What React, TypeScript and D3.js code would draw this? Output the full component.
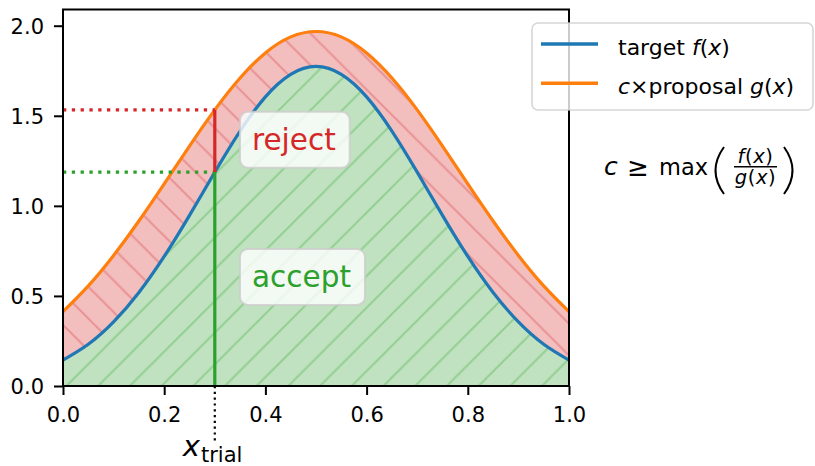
import React, { useRef, useEffect } from 'react'
import * as d3 from 'd3'

// sample points
const xs = [0, 0.05, 0.1, 0.15, 0.2, 0.25, 0.3, 0.35, 0.4, 0.45, 0.5, 0.55, 0.6, 0.65, 0.7, 0.75, 0.8, 0.85, 0.9, 0.95, 1.0]
const targetF = [0.144, 0.232, 0.356, 0.519, 0.719, 0.947, 1.187, 1.415, 1.605, 1.730, 1.774, 1.730, 1.605, 1.415, 1.187, 0.947, 0.719, 0.519, 0.356, 0.232, 0.144]
const proposalCG = [0.413, 0.556, 0.725, 0.916, 1.122, 1.332, 1.533, 1.710, 1.849, 1.938, 1.968, 1.938, 1.849, 1.710, 1.533, 1.332, 1.122, 0.916, 0.725, 0.556, 0.413]

const xTicks = [0, 0.2, 0.4, 0.6, 0.8, 1.0]
const yTicks = [0, 0.5, 1.0, 1.5, 2.0]
const trialIndex = 6 // x = 0.3

const legendItems = [
  { key: 'f', color: '#1f77b4' },
  { key: 'g', color: '#ff7f0e' },
]

const FONT = 'DejaVu Sans'

export default function App() {
  const ref = useRef<SVGSVGElement>(null)
  const layout = { width: 815, height: 466, left: 63, right: 569, top: 9.5, bottom: 386 }

  useEffect(() => {
    const svg = d3.select(ref.current)
    svg.selectAll('*').remove()

    const x = d3.scaleLinear().domain([0, 1]).range([layout.left, layout.right])
    const y = d3.scaleLinear().domain([0, 2.09]).range([layout.bottom, layout.top])

    const data = xs.map((v, i) => ({ x: v, f: targetF[i], g: proposalCG[i] }))
    const xT = xs[trialIndex], fT = targetF[trialIndex], gT = proposalCG[trialIndex]

    // hatch patterns
    const hs = 31.7
    const defs = svg.append('defs')
    const pa = defs.append('pattern').attr('id', 'hatch-accept')
      .attr('patternUnits', 'userSpaceOnUse').attr('width', hs).attr('height', hs)
      .attr('x', 8.6).attr('y', 0)
    pa.append('path')
      .attr('d', `M0,${hs} L${hs},0 M-2,2 L2,-2 M${hs - 2},${hs + 2} L${hs + 2},${hs - 2}`)
      .attr('stroke', '#93cf93').attr('stroke-width', 2)
    const pr = defs.append('pattern').attr('id', 'hatch-reject')
      .attr('patternUnits', 'userSpaceOnUse').attr('width', hs).attr('height', hs)
      .attr('x', 23.4).attr('y', 0)
    pr.append('path')
      .attr('d', `M0,0 L${hs},${hs} M${hs - 2},-2 L${hs + 2},2 M-2,${hs - 2} L2,${hs + 2}`)
      .attr('stroke', '#e99293').attr('stroke-width', 2)

    const acceptArea = d3.area<any>().x(d => x(d.x)).y0(y(0)).y1(d => y(d.f)).curve(d3.curveNatural)
    const rejectArea = d3.area<any>().x(d => x(d.x)).y0(d => y(d.f)).y1(d => y(d.g)).curve(d3.curveNatural)

    svg.append('path').attr('d', acceptArea(data)).attr('fill', '#c0e2c0')
    svg.append('path').attr('d', acceptArea(data)).attr('fill', 'url(#hatch-accept)')
    svg.append('path').attr('d', rejectArea(data)).attr('fill', '#f3bebe')
    svg.append('path').attr('d', rejectArea(data)).attr('fill', 'url(#hatch-reject)')

    const lineF = d3.line<any>().x(d => x(d.x)).y(d => y(d.f)).curve(d3.curveNatural)
    const lineG = d3.line<any>().x(d => x(d.x)).y(d => y(d.g)).curve(d3.curveNatural)
    svg.append('path').attr('d', lineF(data)).attr('fill', 'none').attr('stroke', legendItems[0].color).attr('stroke-width', 3.2)
    svg.append('path').attr('d', lineG(data)).attr('fill', 'none').attr('stroke', legendItems[1].color).attr('stroke-width', 3.2)

    // trial markers
    svg.append('line').attr('x1', x(0)).attr('x2', x(xT)).attr('y1', y(gT)).attr('y2', y(gT))
      .attr('stroke', '#d62728').attr('stroke-width', 3.2).attr('stroke-dasharray', '3.3,5.5')
    svg.append('line').attr('x1', x(0)).attr('x2', x(xT)).attr('y1', y(fT)).attr('y2', y(fT))
      .attr('stroke', '#2ca02c').attr('stroke-width', 3.2).attr('stroke-dasharray', '3.3,5.5')
    svg.append('line').attr('x1', x(xT)).attr('x2', x(xT)).attr('y1', y(fT)).attr('y2', y(gT))
      .attr('stroke', '#d62728').attr('stroke-width', 3.2)
    svg.append('line').attr('x1', x(xT)).attr('x2', x(xT)).attr('y1', y(0)).attr('y2', y(fT))
      .attr('stroke', '#2ca02c').attr('stroke-width', 3.2)
    svg.append('line').attr('x1', x(xT)).attr('x2', x(xT)).attr('y1', y(0)).attr('y2', y(0) + 55)
      .attr('stroke', '#000').attr('stroke-width', 2.2).attr('stroke-dasharray', '2.2,3.6')

    // axes
    const gx = svg.append('g').attr('transform', `translate(0, ${layout.bottom})`)
      .call(d3.axisBottom(x).tickValues(xTicks).tickSize(9).tickSizeOuter(0).tickFormat(d3.format('.1f')))
    gx.select('.domain').remove()
    gx.attr('font-size', 21).attr('font-family', FONT)
    gx.selectAll('line').attr('stroke', '#000').attr('stroke-width', 2)
    gx.selectAll('text').attr('y', 36).attr('dy', null).attr('fill', '#000')

    const gy = svg.append('g').attr('transform', `translate(${layout.left}, 0)`)
      .call(d3.axisLeft(y).tickValues(yTicks).tickSize(9).tickSizeOuter(0).tickFormat(d3.format('.1f')))
    gy.select('.domain').remove()
    gy.attr('font-size', 21).attr('font-family', FONT)
    gy.selectAll('line').attr('stroke', '#000').attr('stroke-width', 2)
    gy.selectAll('text').attr('x', -19).attr('dy', '0.36em').attr('fill', '#000')

    // spines
    svg.append('rect').attr('x', layout.left).attr('y', layout.top)
      .attr('width', layout.right - layout.left).attr('height', layout.bottom - layout.top)
      .attr('fill', 'none').attr('stroke', '#000').attr('stroke-width', 2)

    // x_trial label
    const xl = svg.append('text').attr('x', x(xT) - 32).attr('y', 456).attr('font-family', FONT)
    xl.append('tspan').attr('font-style', 'italic').attr('font-size', 29).text('x')
    xl.append('tspan').attr('font-size', 21).attr('dy', 6).attr('dx', 1).text('trial')

    // reject / accept labels
    const boxLabel = (txt: string, xv: number, yv: number, color: string) => {
      const g = svg.append('g')
      const t = g.append('text').attr('x', x(xv)).attr('y', y(yv))
        .attr('font-family', FONT).attr('font-size', 29.5).attr('fill', color).text(txt)
      const bb = (t.node() as SVGTextElement).getBBox()
      g.insert('rect', 'text').attr('x', bb.x - 12).attr('y', bb.y - 11)
        .attr('width', bb.width + 26).attr('height', bb.height + 22).attr('rx', 8)
        .attr('fill', '#fff').attr('fill-opacity', 0.8)
        .attr('stroke', '#cccccc').attr('stroke-opacity', 0.8).attr('stroke-width', 2)
    }
    boxLabel('reject', 0.3735, 1.311, '#d62728')
    boxLabel('accept', 0.3735, 0.55, '#2ca02c')

    // legend
    const lg = svg.append('g')
    lg.append('rect').attr('x', 532).attr('y', 23).attr('width', 281).attr('height', 87).attr('rx', 6)
      .attr('fill', '#fff').attr('fill-opacity', 0.8)
      .attr('stroke', '#cccccc').attr('stroke-opacity', 0.8).attr('stroke-width', 1.6)
    legendItems.forEach((it, i) => {
      const ly = 44 + i * 39.3
      lg.append('line').attr('x1', 541).attr('x2', 598).attr('y1', ly).attr('y2', ly)
        .attr('stroke', it.color).attr('stroke-width', 3.5)
      const t = lg.append('text').attr('x', 618).attr('y', ly + 11)
        .attr('font-family', FONT).attr('font-size', 22).attr('fill', '#000')
      if (it.key === 'f') {
        t.append('tspan').text('target ')
        t.append('tspan').attr('font-style', 'italic').text('f')
        t.append('tspan').text('(')
        t.append('tspan').attr('font-style', 'italic').text('x')
        t.append('tspan').text(')')
      } else {
        t.append('tspan').attr('font-style', 'italic').text('c')
        t.append('tspan').text('×proposal ')
        t.append('tspan').attr('font-style', 'italic').text('g')
        t.append('tspan').text('(')
        t.append('tspan').attr('font-style', 'italic').text('x')
        t.append('tspan').text(')')
      }
    })

    // formula  c >= max( f(x) / g(x) )
    const fm = svg.append('g').attr('font-family', FONT).attr('fill', '#000')
    fm.append('text').attr('x', 604).attr('y', 175).attr('font-size', 25).attr('font-style', 'italic').text('c')
    fm.append('text').attr('x', 627).attr('y', 176).attr('font-size', 26).text('≥')
    fm.append('text').attr('x', 659).attr('y', 175).attr('font-size', 22.5).text('max')
    const frac = (txt: string, yb: number) => {
      const t = fm.append('text').attr('x', 755.5).attr('y', yb).attr('font-size', 19.5)
        .attr('text-anchor', 'middle').attr('letter-spacing', 0.6)
      t.append('tspan').attr('font-style', 'italic').text(txt)
      t.append('tspan').text('(')
      t.append('tspan').attr('font-style', 'italic').text('x')
      t.append('tspan').text(')')
    }
    frac('f', 162.5)
    frac('g', 184)
    fm.append('line').attr('x1', 734).attr('x2', 777).attr('y1', 166.8).attr('y2', 166.8)
      .attr('stroke', '#000').attr('stroke-width', 1.4)
    fm.append('path').attr('d', 'M724,147 Q707,170.5 724,194').attr('fill', 'none').attr('stroke', '#000').attr('stroke-width', 2)
    fm.append('path').attr('d', 'M784,147 Q801,170.5 784,194').attr('fill', 'none').attr('stroke', '#000').attr('stroke-width', 2)
  }, [])

  return (
    <svg ref={ref} width={layout.width} height={layout.height}
      style={{ position: 'absolute', left: 0, top: 0, background: '#fff' }} />
  )
}
